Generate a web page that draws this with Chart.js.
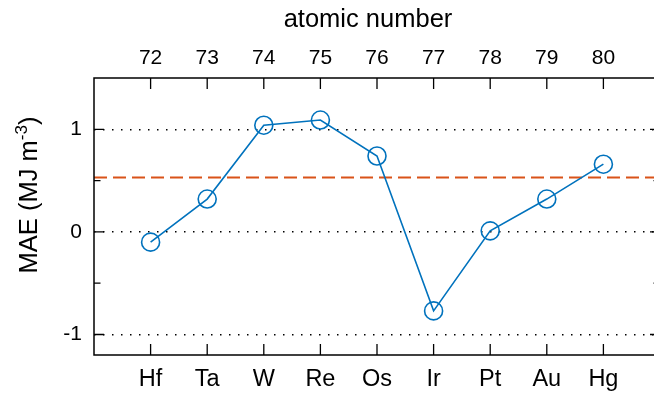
<!DOCTYPE html>
<html>
<head>
<meta charset="utf-8">
<script src="https://cdn.jsdelivr.net/npm/chart.js@4/dist/chart.umd.min.js"></script>
<style>
  html, body { margin: 0; padding: 0; background: #fff; overflow: hidden; }
  #wrap { width: 654px; height: 399px; overflow: hidden; position: relative; }
  canvas { display: block; }
</style>
</head>
<body>
<div id="wrap"><canvas id="c" width="660" height="399"></canvas></div>
<script>
// 5d transition metals: atomic number, symbol and MAE (MJ m^-3)
const atomicNumbers = [72, 73, 74, 75, 76, 77, 78, 79, 80];
const elements = ['Hf', 'Ta', 'W', 'Re', 'Os', 'Ir', 'Pt', 'Au', 'Hg'];
const mae = [-0.10, 0.32, 1.04, 1.09, 0.74, -0.77, 0.01, 0.32, 0.66];
// horizontal reference level (dashed)
const refLevel = 0.53;
// axis ranges, y tick positions and the labelled ones
const xRange = [71, 81];
const yRange = [-1.2, 1.5];
const yTicks = [-1, -0.5, 0, 0.5, 1];
const yLabelled = [-1, 0, 1];

const FONT = "'Liberation Sans', Arial, Helvetica, sans-serif";
const BLUE = '#0072BD';
const ORANGE = '#D95319';

const symbolOf = {};
atomicNumbers.forEach((z, i) => { symbolOf[z] = elements[i]; });
const isLabelled = v => yLabelled.some(t => Math.abs(t - v) < 1e-6);

// fixed tick sets for the scales
const setTicks = values => scale => { scale.ticks = values.map(v => ({ value: v })); };
// keep the plot area free of label overhang padding
const noSidePadding = h => s => { s.height = h; s.paddingLeft = 0; s.paddingRight = 0; };

// frame, inward ticks and axis titles
const framePlugin = {
  id: 'frame',
  afterDraw(chart) {
    const ctx = chart.ctx;
    const a = chart.chartArea;
    const xs = chart.scales.x;
    const ys = chart.scales.y;
    ctx.save();
    ctx.strokeStyle = '#000';
    ctx.lineWidth = 1.5;
    ctx.beginPath();
    ctx.moveTo(a.right, a.top); ctx.lineTo(a.left, a.top);
    ctx.lineTo(a.left, a.bottom); ctx.lineTo(a.right, a.bottom);
    ctx.lineTo(a.right, a.top);
    ctx.stroke();

    ctx.lineWidth = 1.3;
    ctx.beginPath();
    atomicNumbers.forEach(z => {
      const px = xs.getPixelForValue(z);
      ctx.moveTo(px, a.top); ctx.lineTo(px, a.top + 11);
      ctx.moveTo(px, a.bottom); ctx.lineTo(px, a.bottom - 11);
    });
    yTicks.forEach(v => {
      const py = ys.getPixelForValue(v);
      const len = isLabelled(v) ? 10 : 6.5;
      ctx.moveTo(a.left, py); ctx.lineTo(a.left + len, py);
      ctx.moveTo(a.right, py); ctx.lineTo(a.right - len, py);
    });
    ctx.stroke();

    // top axis title
    ctx.fillStyle = '#000';
    ctx.font = '25.5px ' + FONT;
    ctx.textAlign = 'center';
    ctx.textBaseline = 'alphabetic';
    ctx.fillText('atomic number', 368, 27);

    // y axis title with superscript
    const main = 'MAE (MJ m';
    const sup = '-3';
    const tail = ')';
    const mainFont = '25.5px ' + FONT;
    const supFont = '17px ' + FONT;
    ctx.font = mainFont;
    const wMain = ctx.measureText(main).width;
    const wTail = ctx.measureText(tail).width;
    ctx.font = supFont;
    const wSup = ctx.measureText(sup).width;
    const total = wMain + wSup + wTail;
    ctx.translate(27, 195);
    ctx.rotate(-Math.PI / 2);
    ctx.textAlign = 'left';
    const x0 = -total / 2;
    ctx.font = mainFont;
    ctx.fillText(main, x0, 10);
    ctx.font = supFont;
    ctx.fillText(sup, x0 + wMain, 0);
    ctx.font = mainFont;
    ctx.fillText(tail, x0 + wMain + wSup, 10);
    ctx.restore();
  }
};

new Chart(document.getElementById('c'), {
  type: 'line',
  data: {
    datasets: [
      {
        data: atomicNumbers.map((z, i) => ({ x: z, y: mae[i] })),
        borderColor: BLUE,
        borderWidth: 1.6,
        pointStyle: 'circle',
        pointRadius: 9,
        pointBorderWidth: 1.6,
        pointBorderColor: BLUE,
        pointBackgroundColor: 'rgba(0,0,0,0)',
        tension: 0,
        fill: false,
        xAxisID: 'x',
        order: 1
      },
      {
        data: xRange.map(z => ({ x: z, y: refLevel })),
        borderColor: ORANGE,
        borderWidth: 2,
        borderDash: [13, 6],
        pointRadius: 0,
        fill: false,
        xAxisID: 'x',
        order: 2
      }
    ]
  },
  options: {
    responsive: false,
    animation: false,
    events: [],
    // the right-hand frame edge sits just past the visible edge
    layout: { autoPadding: false, padding: 0 },
    plugins: { legend: { display: false }, tooltip: { enabled: false } },
    scales: {
      x: {
        type: 'linear',
        position: 'top',
        min: xRange[0], max: xRange[1],
        afterBuildTicks: setTicks(atomicNumbers),
        grid: { display: false, drawTicks: false },
        border: { display: false },
        ticks: {
          autoSkip: false,
          maxRotation: 0,
          padding: 7,
          color: '#000',
          font: { family: FONT, size: 21 },
          callback: v => String(v)
        },
        afterFit: noSidePadding(78)
      },
      x2: {
        type: 'linear',
        position: 'bottom',
        min: xRange[0], max: xRange[1],
        afterBuildTicks: setTicks(atomicNumbers),
        grid: { display: false, drawTicks: false },
        border: { display: false },
        ticks: {
          autoSkip: false,
          maxRotation: 0,
          padding: 10.5,
          color: '#000',
          font: { family: FONT, size: 23.5 },
          callback: v => symbolOf[v] || ''
        },
        afterFit: noSidePadding(44)
      },
      y: {
        type: 'linear',
        position: 'left',
        min: yRange[0], max: yRange[1],
        afterBuildTicks: setTicks(yTicks),
        grid: {
          drawTicks: false,
          lineWidth: 1.4,
          color: c => (c.tick && isLabelled(c.tick.value) ? '#000' : 'rgba(0,0,0,0)')
        },
        border: { display: false, dash: [1.5, 7.5] },
        ticks: {
          padding: 12,
          color: '#000',
          font: { family: FONT, size: 21 },
          callback: v => (isLabelled(v) ? String(Math.round(v)) : '')
        },
        afterFit: s => { s.width = 94; s.paddingTop = 0; s.paddingBottom = 0; }
      }
    }
  },
  plugins: [framePlugin]
});
</script>
</body>
</html>
